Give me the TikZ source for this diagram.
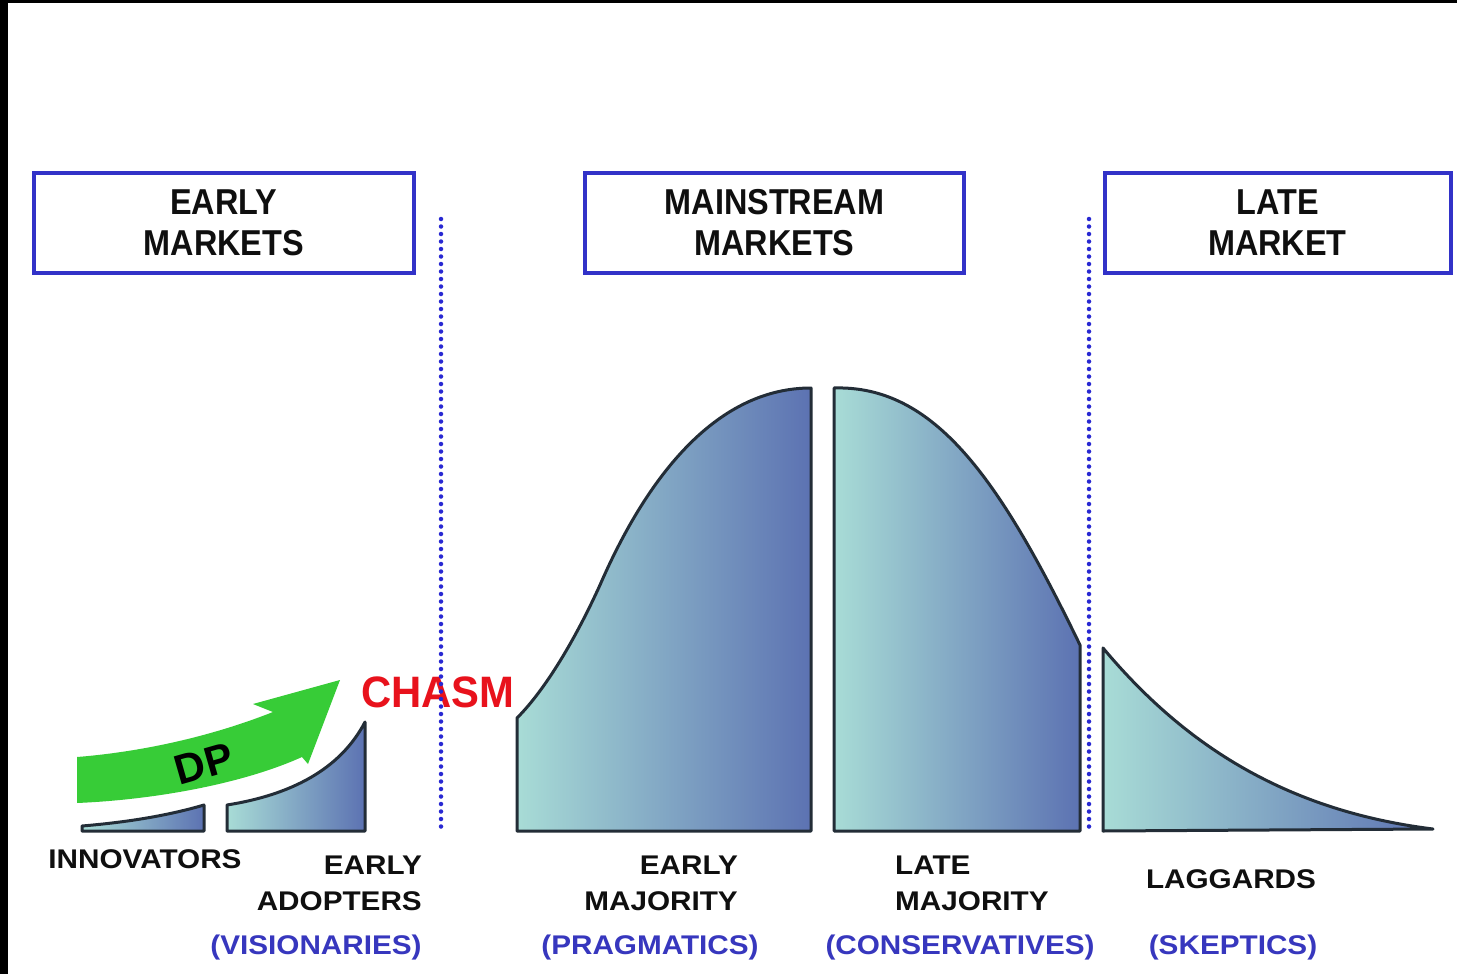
\documentclass[tikz,border=0pt]{standalone}
\usepackage{fontspec}
\setmainfont{Liberation Sans}
\newfontfamily\boxfont[FakeStretch=0.9]{Liberation Sans}
\newfontfamily\labfont[FakeStretch=1.1]{Liberation Sans}
\newfontfamily\chasmfont[FakeStretch=0.95]{Liberation Sans}
\definecolor{boxblue}{RGB}{50,50,200}
\definecolor{dotblue}{RGB}{40,40,210}
\definecolor{labblue}{RGB}{55,55,190}
\definecolor{tealL}{RGB}{168,220,214}
\definecolor{blueR}{RGB}{92,114,178}
\definecolor{outl}{RGB}{35,45,55}
\definecolor{arrowgreen}{RGB}{55,204,55}
\definecolor{chasmred}{RGB}{232,18,28}
\definecolor{txt}{RGB}{15,15,15}
\tikzset{
  mkbox/.style={draw=boxblue, line width=4pt, align=center, inner sep=0pt,
    font=\boxfont\bfseries\fontsize{36}{41}\selectfont, text=txt},
  lab/.style={inner sep=0pt, font=\labfont\bfseries\fontsize{27}{27}\selectfont, text=txt},
  blab/.style={lab, text=labblue},
  curvebox/.style={draw=outl, line width=3pt, line join=round, left color=tealL, right color=blueR},
  divider/.style={draw=dotblue, line width=4.5pt, line cap=round, dash pattern=on 0pt off 7.5pt},
}
\begin{document}
\begin{tikzpicture}[x=1pt,y=-1pt]
\useasboundingbox (0,0) rectangle (1457,974);
\fill[white] (0,0) rectangle (1457,974);
\fill[black] (0,0) rectangle (8,974);
\fill[black] (0,0) rectangle (1457,3);

% header boxes
\node[mkbox, minimum width=380.5pt, minimum height=100pt] (early) at (223.75,222.5) {EARLY\\MARKETS};
\node[mkbox, minimum width=379pt, minimum height=100pt] (main) at (774.5,222.5) {MAINSTREAM\\MARKETS};
\node[mkbox, minimum width=346pt, minimum height=100pt] (late) at (1277.5,222.5) {LATE\\MARKET};

% curve segments
\path[curvebox] (82,831) -- (82,826) .. controls (130,822) and (170,815) .. (204,805) -- (204,831) -- cycle;
\path[curvebox] (227,831) -- (227,805) .. controls (290,795) and (340,770) .. (365,722) -- (365,831) -- cycle;
\path[curvebox] (517,831) -- (517,718) .. controls (545,690) and (575,640) .. (600,585) .. controls (650,470) and (720,388) .. (811,388) -- (811,831) -- cycle;
\path[curvebox] (834,831) -- (834,388) .. controls (935,385) and (1000,480) .. (1080,645) -- (1080,831) -- cycle;
\path[curvebox] (1103,831) -- (1103,648) .. controls (1180,740) and (1280,810) .. (1433,829) -- cycle;

% green arrow
\fill[arrowgreen] (77,757) .. controls (140,752) and (210,737) .. (273,712) -- (253,704) -- (340,680) -- (308,764) -- (302,757) .. controls (240,785) and (150,800) .. (77,803) -- cycle;
\node[inner sep=0pt, rotate=16, font=\bfseries\fontsize{42}{42}\selectfont, text=black] (dp) at (204,764) {DP};

% chasm
\node[inner sep=0pt, anchor=base, font=\chasmfont\bfseries\fontsize{44}{44}\selectfont, text=chasmred] (chasm) at (438,707) {CHASM};

% dividers
\coordinate (d1t) at (441,219);
\coordinate (d1b) at (441,830);
\coordinate (d2t) at (1089,219);
\coordinate (d2b) at (1089,830);
\draw[divider] (d1t) -- (d1b);
\draw[divider] (d2t) -- (d2b);

% labels
\node[lab, anchor=base] (inn) at (145,868) {INNOVATORS};
\node[lab, anchor=base east] (ea1) at (422,874) {EARLY};
\node[lab, anchor=base east] (ea2) at (422,910) {ADOPTERS};
\node[blab, anchor=base] (vis) at (316,954) {(VISIONARIES)};
\node[lab, anchor=base east] (em1) at (738,874) {EARLY};
\node[lab, anchor=base east] (em2) at (738,910) {MAJORITY};
\node[blab, anchor=base] (prag) at (650,954) {(PRAGMATICS)};
\node[lab, anchor=base west] (lm1) at (895,874) {LATE};
\node[lab, anchor=base west] (lm2) at (895,910) {MAJORITY};
\node[blab, anchor=base] (cons) at (960,954) {(CONSERVATIVES)};
\node[lab, anchor=base] (lag) at (1231,888) {LAGGARDS};
\node[blab, anchor=base] (skep) at (1233,954) {(SKEPTICS)};
\end{tikzpicture}
\end{document}
